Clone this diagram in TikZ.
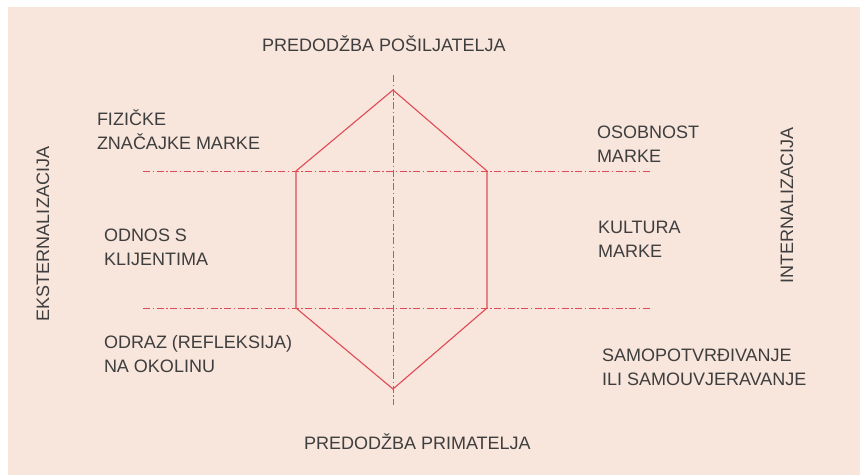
\documentclass[tikz,border=0pt]{standalone}
\usepackage{fontspec}
\setmainfont{Liberation Sans}
\definecolor{panel}{HTML}{F8E5DC}
\definecolor{redline}{HTML}{E04A55}
\definecolor{txt}{HTML}{3E3E3E}
\begin{document}
\begin{tikzpicture}[x=1pt,y=-1pt,
  lbl/.style={inner sep=0pt, outer sep=0pt, text=txt, font=\fontsize{18}{23.4}\selectfont, align=left, anchor=base west},
  ttl/.style={inner sep=0pt, outer sep=0pt, text=txt, font=\fontsize{18}{23.4}\selectfont, anchor=base west},
  vlbl/.style={inner sep=0pt, outer sep=0pt, text=txt, font=\fontsize{18}{23.4}\selectfont, rotate=90, anchor=base},
  axis/.style={draw=redline, line width=0.9pt, dash pattern=on 7pt off 2.5pt on 1.5pt off 2.5pt},
  hexa/.style={draw=redline, line width=1.1pt, line join=miter}]
\useasboundingbox (0,0) rectangle (860,475);
\fill[white] (0,0) rectangle (860,475);
\fill[panel] (8,7) rectangle (860,475);

% axes
\coordinate (vt) at (393,75);
\coordinate (vb) at (393,405);
\coordinate (h1l) at (143,171);
\coordinate (h1r) at (652,171);
\coordinate (h2l) at (143,308);
\coordinate (h2r) at (652,308);
\draw[axis] (vt) -- (vb);
\draw[axis] (h1l) -- (h1r);
\draw[axis] (h2l) -- (h2r);

% hexagon
\coordinate (T) at (393,90);
\coordinate (UR) at (487,171);
\coordinate (LR) at (487,308);
\coordinate (B) at (393,389);
\coordinate (LL) at (296,308);
\coordinate (UL) at (296,171);
\draw[hexa] (T) -- (UR) -- (LR) -- (B) -- (LL) -- (UL) -- cycle;

% titles
\node[ttl] (tsend) at (262,51) {PREDODŽBA POŠILJATELJA};
\node[ttl] (trecv) at (304,449) {PREDODŽBA PRIMATELJA};

% left labels (anchor = baseline of last line)
\node[lbl] (fiz) at (97,149.3) {FIZIČKE\\ZNAČAJKE MARKE};
\node[lbl] (odn) at (104,265) {ODNOS S\\KLIJENTIMA};
\node[lbl] (odr) at (104,372.3) {ODRAZ (REFLEKSIJA)\\NA OKOLINU};

% right labels
\node[lbl] (oso) at (597,162) {OSOBNOST\\MARKE};
\node[lbl] (kul) at (598,257) {KULTURA\\MARKE};
\node[lbl] (sam) at (602,385) {SAMOPOTVRĐIVANJE\\ILI SAMOUVJERAVANJE};

% vertical labels
\node[vlbl] (ext) at (49,234) {EKSTERNALIZACIJA};
\node[vlbl] (int) at (793,205) {INTERNALIZACIJA};
\end{tikzpicture}
\end{document}
